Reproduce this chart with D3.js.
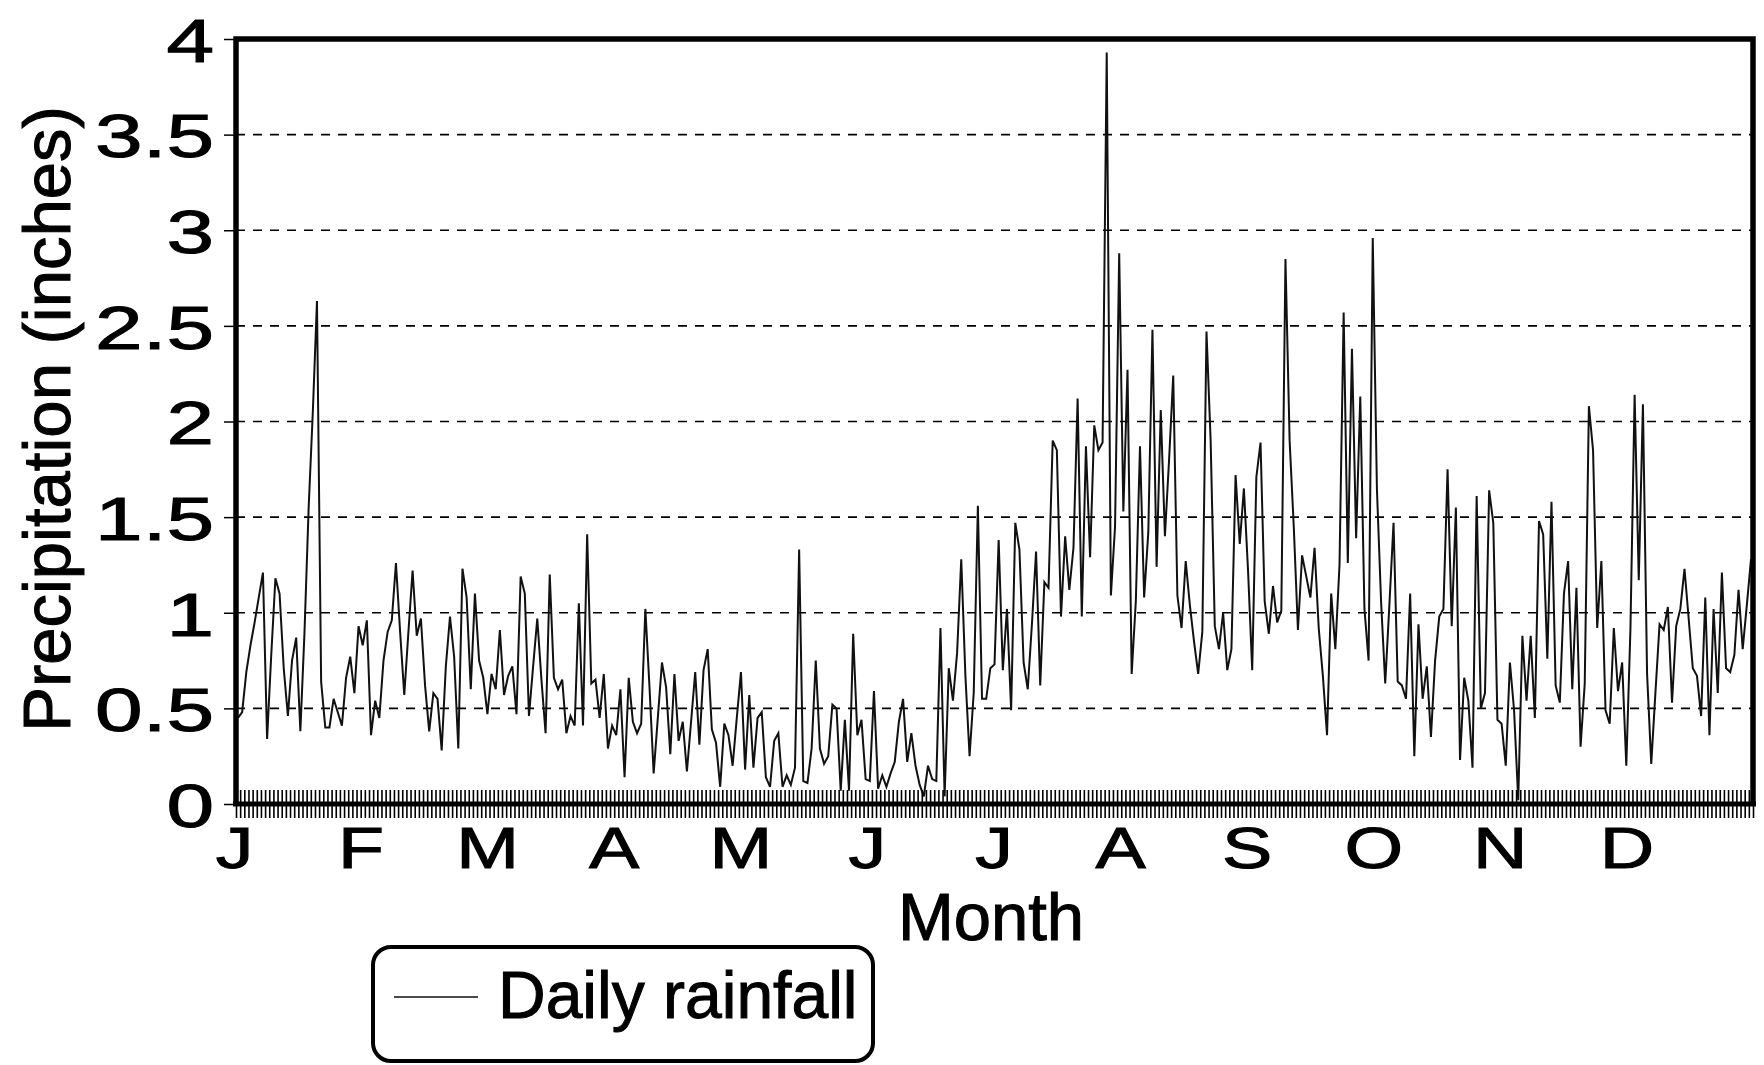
<!DOCTYPE html>
<html>
<head>
<meta charset="utf-8">
<script src="https://cdn.jsdelivr.net/npm/d3@7"></script>
<style>
  html, body { margin: 0; padding: 0; background: #fff; }
  svg { display: block; }
  text { font-family: "Liberation Sans", Arial, Helvetica, sans-serif; fill: #000; stroke: #000; stroke-width: 1; }
</style>
</head>
<body>
<svg id="chart" width="1764" height="1065"></svg>
<script>
// ---- data ----
const months = ["J","F","M","A","M","J","J","A","S","O","N","D"];
const yTickValues = [0, 0.5, 1, 1.5, 2, 2.5, 3, 3.5, 4];
const yTickLabels = ["0", "0.5", "1", "1.5", "2", "2.5", "3", "3.5", "4"];
const seriesName = "Daily rainfall";
const yTitle = "Precipitation (inches)";
const xTitle = "Month";

// daily rainfall, days 1..365 (inches)
const janFeb = [0.45,0.48,0.69,0.83,0.95,1.08,1.21,0.34,0.78,1.18,1.10,0.71,0.46,0.75,0.87,0.38,0.90,1.55,2.05,2.63,
  0.64,0.40,0.40,0.55,0.48,0.41,0.66,0.77,0.58,0.93,0.83,0.96,0.36,0.54,0.45,0.75,0.90,0.96,1.26,0.90,
  0.57,0.90,1.22,0.88,0.97,0.62,0.38,0.58,0.55,0.28,0.72,0.98,0.77,0.29,1.23,1.08,0.60,1.10,0.75,0.66];
const marApr = [0.47,0.68,0.60,0.91,0.57,0.67,0.72,0.47,1.19,1.10,0.46,0.72,0.97,0.65,0.37,1.20,0.66,0.60,0.65,0.37,
  0.46,0.41,1.05,0.41,1.41,0.63,0.65,0.45,0.68,0.29,0.41,0.36,0.60,0.14,0.66,0.43,0.37,0.42,1.02,0.61,
  0.16,0.45,0.74,0.61,0.26,0.68,0.33,0.43,0.17,0.43,0.69,0.31,0.70,0.81,0.39,0.32,0.09,0.42,0.36,0.20,0.45];
const mayJun = [0.69,0.18,0.57,0.19,0.45,0.48,0.14,0.09,0.33,0.37,0.09,0.15,0.10,0.19,1.33,0.12,0.11,0.29,0.75,0.29,
  0.21,0.25,0.52,0.50,0.07,0.44,0.07,0.89,0.36,0.44,0.13,0.12,0.59,0.08,0.15,0.09,0.16,0.22,0.43,0.55,
  0.22,0.37,0.20,0.10,0.04,0.20,0.13,0.12,0.92,0.04,0.71,0.54,0.79,1.28,0.67,0.25,0.58,1.56,0.55,0.55,0.71];
const julAug = [0.73,1.38,0.70,1.02,0.49,1.47,1.33,0.74,0.60,0.94,1.32,0.62,1.16,1.13,1.90,1.85,0.98,1.40,1.12,1.34,
  2.12,0.98,1.87,1.29,1.98,1.85,1.89,3.93,1.09,1.45,2.88,1.53,2.27,0.68,1.06,1.87,1.08,1.42,2.48,1.24,
  2.06,1.40,1.80,2.24,1.09,0.92,1.27,1.04,0.85,0.68,0.90,2.47,1.90,0.93,0.81,1.00,0.70,0.81,1.72,1.36,1.65,1.22];
const sepOct = [0.70,1.71,1.89,1.06,0.89,1.14,0.95,1.01,2.85,1.90,1.45,0.91,1.30,1.19,1.08,1.34,0.92,0.67,0.36,1.10,
  0.81,1.25,2.57,1.26,2.38,1.39,2.13,1.02,0.75,2.96,1.65,1.06,0.63,1.04,1.47,0.64,0.62,0.55,1.10,0.25,
  0.94,0.55,0.72,0.35,0.75,0.98,1.02,1.75,0.93,1.55,0.23,0.66,0.54,0.19,1.61,0.50,0.58,1.64,1.47,0.44];
const novDec = [0.42,0.20,0.74,0.49,0.02,0.88,0.54,0.88,0.45,1.48,1.41,0.76,1.58,0.62,0.53,1.10,1.27,0.60,1.13,0.30,
  0.63,2.08,1.85,0.92,1.27,0.49,0.42,0.92,0.59,0.74,0.20,0.92,2.14,1.17,2.09,0.68,0.21,0.58,0.94,0.91,
  1.03,0.53,0.93,1.02,1.23,0.97,0.71,0.67,0.46,1.08,0.36,1.02,0.58,1.21,0.71,0.69,0.78,1.12,0.81,1.04,1.28];
const rainfall = [].concat(janFeb, marApr, mayJun, julAug, sepOct, novDec);
const days = rainfall.map((_, i) => i);

// ---- layout ----
const L = 236, R = 1753, T = 39, B = 804;
const svg = d3.select("#chart");

const x = d3.scaleLinear().domain([0, days.length - 1]).range([L + 2, R - 2]);
const xTicks = d3.scaleLinear().domain([0, days.length]).range([L, R]);
const xMonth = d3.scaleLinear().domain([0, 12]).range([L - 2, R]);
const y = d3.scaleLinear().domain([0, 4]).range([B, T]);

// gridlines
svg.append("g")
  .selectAll("line")
  .data(yTickValues.filter(v => v > 0 && v < 4))
  .join("line")
  .attr("x1", L).attr("x2", R)
  .attr("y1", d => y(d)).attr("y2", d => y(d))
  .attr("stroke", "#000").attr("stroke-width", 1.6)
  .attr("stroke-dasharray", "9,8");

// y axis with labels
const yAxis = svg.append("g")
  .attr("transform", `translate(${L},0)`)
  .call(d3.axisLeft(y).tickValues(yTickValues)
    .tickFormat((d, i) => yTickLabels[i]).tickSize(12).tickSizeOuter(0));
yAxis.select(".domain").remove();
yAxis.selectAll(".tick line").attr("stroke", "#000").attr("stroke-width", 1.5);
yAxis.selectAll(".tick text")
  .attr("x", 0).attr("dy", "0.36em")
  .attr("transform", "translate(-22,0) scale(1.38,1)")
  .style("font-size", "62px").style("font-family", "'Liberation Sans', Arial, sans-serif")
  .attr("fill", "#000").attr("stroke", "#000").attr("stroke-width", 1);

// data line
const line = d3.line().x((d, i) => x(days[i])).y(d => y(d));
svg.append("path")
  .datum(rainfall)
  .attr("d", line)
  .attr("fill", "none")
  .attr("stroke", "#111")
  .attr("stroke-width", 2)
  .attr("stroke-linejoin", "miter");

// daily tick band on x axis
const dayTickVals = d3.range(0, days.length + 1);
const up = svg.append("g").attr("transform", `translate(0,${B - 2})`)
  .call(d3.axisTop(xTicks).tickValues(dayTickVals).tickFormat("").tickSize(12).tickSizeOuter(0));
const down = svg.append("g").attr("transform", `translate(0,${B + 2})`)
  .call(d3.axisBottom(xTicks).tickValues(dayTickVals).tickFormat("").tickSize(12).tickSizeOuter(0));
[up, down].forEach(g => {
  g.select(".domain").remove();
  g.selectAll(".tick line").attr("stroke", "#000").attr("stroke-width", 1.6);
});

// month labels
const mAxis = svg.append("g").attr("transform", `translate(0,${B})`)
  .call(d3.axisBottom(xMonth).tickValues(d3.range(12)).tickFormat(i => months[i]).tickSize(0));
mAxis.select(".domain").remove();
mAxis.selectAll(".tick text")
  .attr("x", 0).attr("y", 0).attr("dy", 0)
  .attr("transform", "translate(0,64) scale(1.3,1)")
  .style("font-size", "58px").style("font-family", "'Liberation Sans', Arial, sans-serif")
  .attr("fill", "#000").attr("stroke", "#000").attr("stroke-width", 1);

// frame
svg.append("path")
  .attr("d", `M${L},${B} L${L},${T} L${R},${T} L${R},${B}`)
  .attr("fill", "none").attr("stroke", "#000").attr("stroke-width", 5.5);
svg.append("line")
  .attr("x1", L - 3).attr("x2", R + 3).attr("y1", B).attr("y2", B)
  .attr("stroke", "#000").attr("stroke-width", 5);

// axis titles
svg.append("text")
  .attr("transform", `translate(70,419) rotate(-90)`)
  .attr("text-anchor", "middle")
  .style("font-size", "67px")
  .text(yTitle);
svg.append("text")
  .attr("x", 991).attr("y", 940)
  .attr("text-anchor", "middle")
  .style("font-size", "67px")
  .text(xTitle);

// legend
const lg = svg.append("g");
lg.append("rect")
  .attr("x", 373).attr("y", 947).attr("width", 500).attr("height", 114)
  .attr("rx", 18).attr("ry", 18)
  .attr("fill", "#fff").attr("stroke", "#000").attr("stroke-width", 4);
lg.append("line")
  .attr("x1", 394).attr("x2", 478).attr("y1", 997).attr("y2", 997)
  .attr("stroke", "#111").attr("stroke-width", 1.6);
lg.append("text")
  .attr("x", 498).attr("y", 1018)
  .style("font-size", "66px")
  .text(seriesName);
</script>
</body>
</html>
